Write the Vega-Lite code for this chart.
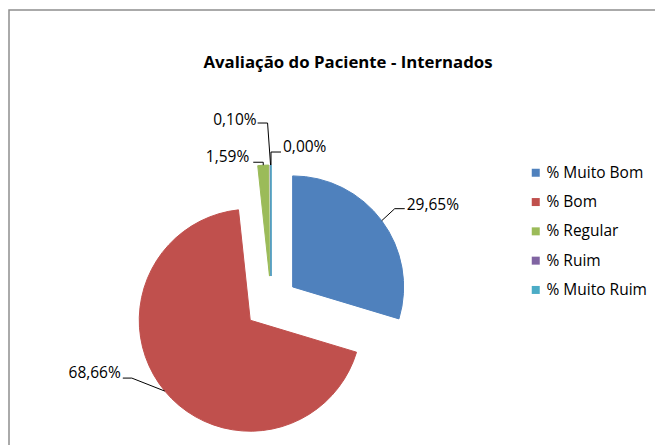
{
  "$schema": "https://vega.github.io/schema/vega-lite/v6.json",
  "autosize": {"type": "none"},
  "width": 660,
  "height": 450,
  "padding": {"left": 9, "top": 10, "right": -14, "bottom": -15},
  "background": "white",
  "config": {
    "view": {"stroke": "#8e8e8e", "strokeWidth": 1.5},
    "text": {"font": "Open Sans", "fontSize": 15.5, "color": "#000000"}
  },
  "title": {
    "text": "Avaliação do Paciente - Internados",
    "font": "Open Sans",
    "fontSize": 16.8,
    "fontWeight": "bold",
    "color": "#000000",
    "anchor": "middle",
    "frame": "group",
    "offset": -62,
    "dx": 9
  },
  "data": {
    "values": [
      {"categoria": "% Muito Bom", "valor": 29.65, "ordem": 1},
      {"categoria": "% Bom", "valor": 68.66, "ordem": 2},
      {"categoria": "% Regular", "valor": 1.59, "ordem": 3},
      {"categoria": "% Ruim", "valor": 0.10, "ordem": 4},
      {"categoria": "% Muito Ruim", "valor": 0.00, "ordem": 5}
    ]
  },
  "transform": [
    {"window": [{"op": "sum", "field": "valor", "as": "fim"}], "sort": [{"field": "ordem"}], "frame": [null, 0]},
    {"calculate": "datum.fim - datum.valor", "as": "inicio"},
    {"calculate": "PI * (datum.inicio + datum.fim) / 100", "as": "meio"},
    {"calculate": "0.243 * sin(datum.meio)", "as": "cx"},
    {"calculate": "0.243 * cos(datum.meio)", "as": "cy"},
    {"calculate": "1.243 * sin(datum.meio)", "as": "bx"},
    {"calculate": "1.243 * cos(datum.meio)", "as": "by"},
    {"calculate": "replace(format(datum.valor, '.2f'), '.', ',') + '%'", "as": "rotulo"}
  ],
  "layer": [
    {
      "mark": {"type": "arc", "radius": 111, "strokeWidth": 1},
      "encoding": {
        "x": {"field": "cx", "type": "quantitative", "stack": null, "scale": {"domain": [-2.3604, 3.5856], "nice": false, "zero": false}, "axis": null},
        "y": {"field": "cy", "type": "quantitative", "stack": null, "scale": {"domain": [-1.4144, 2.6396], "nice": false, "zero": false}, "axis": null},
        "theta": {"field": "inicio", "type": "quantitative", "stack": null, "scale": {"domain": [0, 100], "range": [0, 6.283185307]}},
        "theta2": {"field": "fim"},
        "color": {
          "field": "categoria", "type": "nominal",
          "scale": {"domain": ["% Muito Bom", "% Bom", "% Regular", "% Ruim", "% Muito Ruim"], "range": ["#4f81bd", "#c0504d", "#9bbb59", "#8064a2", "#4bacc6"]},
          "legend": {
            "orient": "none", "legendX": 519, "legendY": 155, "title": null,
            "symbolType": "square", "symbolSize": 64, "symbolStrokeWidth": 0,
            "labelFont": "Open Sans", "labelFontSize": 15.5, "labelColor": "#000000",
            "labelOffset": 3, "rowPadding": 12.3, "padding": 0
          }
        },
        "stroke": {
          "field": "categoria", "type": "nominal",
          "scale": {"domain": ["% Muito Bom", "% Bom", "% Regular", "% Ruim", "% Muito Ruim"], "range": ["#4f81bd", "#c0504d", "#9bbb59", "#8064a2", "#4bacc6"]},
          "legend": null
        }
      }
    },
    {
      "transform": [{"filter": "datum.ordem == 1"}],
      "encoding": {
        "x": {"field": "bx", "type": "quantitative"},
        "y": {"field": "by", "type": "quantitative"},
        "x2": {"field": "bx"},
        "y2": {"field": "by"}
      },
      "layer": [
        {"mark": {"type": "rule", "color": "#000000", "x2Offset": 13, "y2Offset": -12}},
        {"mark": {"type": "rule", "color": "#000000", "xOffset": 13, "yOffset": -12, "x2Offset": 23, "y2Offset": -12}},
        {"mark": {"type": "text", "align": "left", "baseline": "middle", "dx": 25, "dy": -16}, "encoding": {"text": {"field": "rotulo"}}}
      ]
    },
    {
      "transform": [{"filter": "datum.ordem == 2"}],
      "encoding": {
        "x": {"field": "bx", "type": "quantitative"},
        "y": {"field": "by", "type": "quantitative"},
        "x2": {"field": "bx"},
        "y2": {"field": "by"}
      },
      "layer": [
        {"mark": {"type": "rule", "color": "#000000", "x2Offset": -33, "y2Offset": -13}},
        {"mark": {"type": "rule", "color": "#000000", "xOffset": -33, "yOffset": -13, "x2Offset": -42, "y2Offset": -13}},
        {"mark": {"type": "text", "align": "right", "baseline": "middle", "dx": -44, "dy": -18}, "encoding": {"text": {"field": "rotulo"}}}
      ]
    },
    {
      "transform": [{"filter": "datum.ordem == 3"}],
      "encoding": {
        "x": {"field": "bx", "type": "quantitative"},
        "y": {"field": "by", "type": "quantitative"},
        "x2": {"field": "bx"},
        "y2": {"field": "by"}
      },
      "layer": [
        {"mark": {"type": "rule", "color": "#000000", "x2Offset": 0, "y2Offset": -3}},
        {"mark": {"type": "rule", "color": "#000000", "xOffset": 0, "yOffset": -3, "x2Offset": -10, "y2Offset": -3}},
        {"mark": {"type": "text", "align": "right", "baseline": "middle", "dx": -14, "dy": -8}, "encoding": {"text": {"field": "rotulo"}}}
      ]
    },
    {
      "transform": [{"filter": "datum.ordem == 4"}],
      "encoding": {
        "x": {"field": "bx", "type": "quantitative"},
        "y": {"field": "by", "type": "quantitative"},
        "x2": {"field": "bx"},
        "y2": {"field": "by"}
      },
      "layer": [
        {"mark": {"type": "rule", "color": "#000000", "x2Offset": -3, "y2Offset": -42}},
        {"mark": {"type": "rule", "color": "#000000", "xOffset": -3, "yOffset": -42, "x2Offset": -13, "y2Offset": -42}},
        {"mark": {"type": "text", "align": "right", "baseline": "middle", "dx": -14, "dy": -45}, "encoding": {"text": {"field": "rotulo"}}}
      ]
    },
    {
      "transform": [{"filter": "datum.ordem == 5"}],
      "encoding": {
        "x": {"field": "bx", "type": "quantitative"},
        "y": {"field": "by", "type": "quantitative"},
        "x2": {"field": "bx"},
        "y2": {"field": "by"}
      },
      "layer": [
        {"mark": {"type": "rule", "color": "#000000", "x2Offset": 0, "y2Offset": -13}},
        {"mark": {"type": "rule", "color": "#000000", "xOffset": 0, "yOffset": -13, "x2Offset": 10, "y2Offset": -13}},
        {"mark": {"type": "text", "align": "left", "baseline": "middle", "dx": 12, "dy": -18}, "encoding": {"text": {"field": "rotulo"}}}
      ]
    }
  ]
}
